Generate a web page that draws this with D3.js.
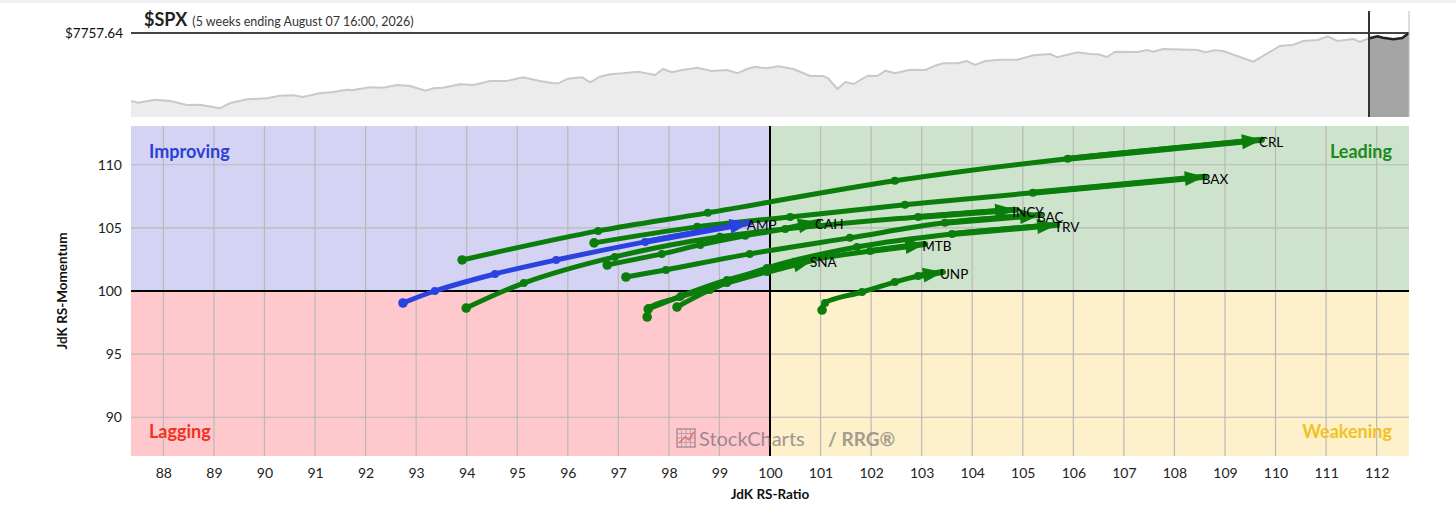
<!DOCTYPE html>
<html>
<head>
<meta charset="utf-8">
<script src="https://cdn.jsdelivr.net/npm/d3@7"></script>
<style>
  body { margin: 0; background: #fff; font-family: Lato, "Open Sans", sans-serif; }
  svg text { font-family: Lato, "Open Sans", sans-serif; }
</style>
</head>
<body>
<svg id="viz" width="1456" height="506"></svg>
<script>
// RRG tails: one array per ticker, weekly points, oldest first
var tickers = ["CRL", "BAX", "INCY", "CAH", "BAC", "TRV", "MTB", "SNA", "UNP", "AMP"];
var ratioTails = [
  [93.91, 96.60, 98.77, 102.47, 105.89, 109.73],
  [96.52, 98.56, 100.40, 102.67, 105.20, 108.60],
  [93.99, 95.13, 96.93, 99.01, 102.93, 104.85],
  [96.78, 97.86, 98.62, 99.51, 100.30, 100.95],
  [97.15, 97.94, 99.60, 101.58, 103.46, 105.34],
  [98.16, 98.81, 99.94, 101.72, 103.60, 105.68],
  [97.59, 98.24, 99.15, 100.59, 101.98, 103.07],
  [97.57, 97.61, 98.22, 99.15, 99.94, 100.85],
  [101.03, 101.09, 101.82, 102.47, 102.93, 103.42],
  [92.74, 93.37, 94.56, 95.77, 97.53, 99.60]
];
var momentumTails = [
  [102.46, 104.76, 106.19, 108.73, 110.48, 111.98],
  [103.81, 105.08, 105.87, 106.83, 107.78, 109.05],
  [98.65, 100.63, 102.70, 104.29, 105.87, 106.43],
  [102.06, 102.94, 103.65, 104.37, 104.92, 105.48],
  [101.11, 101.67, 102.94, 104.21, 105.40, 106.03],
  [98.73, 100.08, 101.83, 103.49, 104.52, 105.24],
  [98.57, 99.60, 100.87, 102.30, 103.17, 103.73],
  [97.94, 98.65, 99.52, 100.63, 101.51, 102.46],
  [98.49, 99.05, 99.92, 100.71, 101.19, 101.51],
  [99.05, 100.00, 101.35, 102.46, 103.89, 105.40]
];

var xTicks = [88, 89, 90, 91, 92, 93, 94, 95, 96, 97, 98, 99, 100, 101, 102, 103, 104, 105, 106, 107, 108, 109, 110, 111, 112];
var yTicks = [90, 95, 100, 105, 110];

// $SPX price strip (weeks from start of window, close)
var priceWeeks = [0, 0.9, 3.0, 4.9, 7.0, 8.6, 11.1, 12.4, 14.5, 17.0, 18.6, 20.3, 21.5, 23.6, 25.3, 27.0, 27.8, 29.9,
  31.5, 33.3, 34.9, 36.8, 37.8, 39.0, 41.1, 42.8, 44.9, 47.0, 49.0, 51.1, 52.8, 53.4, 54.6, 56.4, 57.4, 58.6, 59.9,
  61.5, 63.4, 65.5, 66.5, 67.6, 68.9, 70.8, 72.6, 74.5, 75.8, 77.0, 78.0, 79.5, 80.9, 82.8, 84.9, 86.5, 87.1, 88.3,
  89.3, 90.3, 92.1, 93.3, 94.3, 95.5, 97.4, 99.3, 100.5, 101.5, 103.3, 104.5, 105.5, 106.8, 108.6, 110.8, 112.8,
  114.9, 115.8, 118.3, 119.9, 120.9, 122.0, 123.0, 125.8, 127.0, 127.8, 129.0, 133.3, 134.3, 135.5, 136.5, 140.3,
  143.6, 145.3, 146.5, 148.3, 149.6, 150.8, 152.8, 153.6, 154.6, 155.8, 156.5, 157.8, 158.9, 159.75];
var priceValues = [4494, 4412, 4556, 4494, 4302, 4316, 4143, 4398, 4575, 4623, 4748, 4767, 4686, 4863, 4926, 5036, 5022, 5151,
  5132, 5262, 5214, 4988, 5103, 5132, 5295, 5262, 5454, 5454, 5631, 5454, 5343, 5343, 5564, 5631, 5391, 5660, 5775,
  5823, 5900, 5742, 6030, 5871, 5982, 6092, 5934, 5982, 5823, 6030, 6140, 6063, 6159, 6030, 5694, 5694, 5598, 5070,
  5406, 5310, 5708, 5694, 5948, 5823, 5996, 5982, 6188, 6303, 6303, 6414, 6222, 6414, 6476, 6476, 6687,
  6750, 6591, 6831, 6750, 6735, 6606, 6860, 6846, 6942, 6860, 6990, 6942, 6831, 6927, 6894, 6380,
  7134, 7196, 7374, 7422, 7599, 7374, 7470, 7326, 7484, 7599, 7532, 7455, 7518, 7757.64];
var lastPrice = 7757.64;
var tailWeeks = 5;

var plot = {left: 131, right: 1409, top: 126, bottom: 456};
var strip = {top: 33, bottom: 117};

function main() {
  var svg = d3.select("#viz");

  svg.append("rect").attr("x", 0).attr("y", 0).attr("width", 1456).attr("height", 3).attr("fill", "#eef2f6");

  priceStrip(svg);
  rrgChart(svg);
}

function priceStrip(svg) {
  var wx = d3.scaleLinear().domain([0, 159.75]).range([plot.left, plot.right]);
  var py = d3.scaleLinear().domain([lastPrice - 84 * 48, lastPrice]).range([strip.bottom, strip.top]);
  var pts = priceWeeks.map(function(w, i) { return {w: w, p: priceValues[i]}; });

  var area = d3.area().x(function(d) { return wx(d.w); }).y0(strip.bottom).y1(function(d) { return py(d.p); });
  var line = d3.line().x(function(d) { return wx(d.w); }).y(function(d) { return py(d.p); });

  var tailStart = wx(159.75 - tailWeeks);
  svg.append("clipPath").attr("id", "histClip").append("rect")
    .attr("x", plot.left).attr("y", 0).attr("width", tailStart - plot.left).attr("height", 130);
  svg.append("clipPath").attr("id", "tailClip").append("rect")
    .attr("x", tailStart).attr("y", 0).attr("width", plot.right - tailStart + 2).attr("height", 130);

  svg.append("path").datum(pts).attr("d", area).attr("fill", "#ececec").attr("clip-path", "url(#histClip)");
  svg.append("path").datum(pts).attr("d", line).attr("fill", "none").attr("stroke", "#c9c9c9")
    .attr("stroke-width", 2).attr("clip-path", "url(#histClip)");
  svg.append("path").datum(pts).attr("d", area).attr("fill", "#a5a5a5").attr("clip-path", "url(#tailClip)");

  // last price line
  svg.append("line").attr("x1", plot.left).attr("x2", plot.right).attr("y1", py(lastPrice)).attr("y2", py(lastPrice))
    .attr("stroke", "#444").attr("stroke-width", 2);
  svg.append("path").datum(pts).attr("d", line).attr("fill", "none").attr("stroke", "#222")
    .attr("stroke-width", 2.5).attr("clip-path", "url(#tailClip)");

  svg.append("line").attr("x1", tailStart).attr("x2", tailStart).attr("y1", 11).attr("y2", strip.bottom)
    .attr("stroke", "#333").attr("stroke-width", 2);
  svg.append("line").attr("x1", plot.right).attr("x2", plot.right).attr("y1", 11).attr("y2", strip.bottom)
    .attr("stroke", "#bbb").attr("stroke-width", 1);

  svg.append("text").attr("x", 123).attr("y", py(lastPrice) + 5).attr("text-anchor", "end")
    .attr("font-size", 13.5).attr("fill", "#111").text("$" + lastPrice.toFixed(2));

  var title = svg.append("text").attr("x", 144).attr("y", 26).attr("fill", "#222");
  title.append("tspan").attr("font-size", 18).attr("font-weight", "bold").text("$SPX");
  title.append("tspan").attr("font-size", 12.5).attr("dx", 5).attr("fill", "#333")
    .text("(5 weeks ending August 07 16:00, 2026)");
}

function rrgChart(svg) {
  var x = d3.scaleLinear().domain([87.36, 112.64]).range([plot.left, plot.right]);
  var y = d3.scaleLinear().domain([86.93, 113.07]).range([plot.bottom, plot.top]);
  var cx = x(100), cy = y(100);

  // quadrants
  var quads = [
    {x0: plot.left, y0: plot.top, x1: cx, y1: cy, fill: "#d4d3f4"},
    {x0: cx, y0: plot.top, x1: plot.right, y1: cy, fill: "#cde3cb"},
    {x0: plot.left, y0: cy, x1: cx, y1: plot.bottom, fill: "#fec8cc"},
    {x0: cx, y0: cy, x1: plot.right, y1: plot.bottom, fill: "#fdf0ca"}
  ];
  svg.append("g").selectAll("rect").data(quads).enter().append("rect")
    .attr("x", function(d) { return d.x0; }).attr("y", function(d) { return d.y0; })
    .attr("width", function(d) { return d.x1 - d.x0; }).attr("height", function(d) { return d.y1 - d.y0; })
    .attr("fill", function(d) { return d.fill; });

  // grid
  var grid = svg.append("g");
  grid.selectAll("line.vx").data(xTicks).enter().append("line")
    .attr("x1", function(d) { return x(d); }).attr("x2", function(d) { return x(d); })
    .attr("y1", plot.top).attr("y2", plot.bottom).attr("stroke", "#b9b9b9").attr("stroke-width", 1.2);
  grid.selectAll("line.hy").data(yTicks).enter().append("line")
    .attr("y1", function(d) { return y(d); }).attr("y2", function(d) { return y(d); })
    .attr("x1", plot.left).attr("x2", plot.right).attr("stroke", "#b9b9b9").attr("stroke-width", 1.2);

  svg.append("line").attr("x1", cx).attr("x2", cx).attr("y1", plot.top).attr("y2", plot.bottom)
    .attr("stroke", "#000").attr("stroke-width", 2);
  svg.append("line").attr("x1", plot.left).attr("x2", plot.right).attr("y1", cy).attr("y2", cy)
    .attr("stroke", "#000").attr("stroke-width", 2);

  // axes
  var xAxis = svg.append("g").attr("transform", "translate(0," + plot.bottom + ")")
    .call(d3.axisBottom(x).tickValues(xTicks).tickSize(0).tickPadding(12).tickFormat(d3.format("d")));
  var yAxis = svg.append("g").attr("transform", "translate(" + plot.left + ",0)")
    .call(d3.axisLeft(y).tickValues(yTicks).tickSize(0).tickPadding(9).tickFormat(d3.format("d")));
  [xAxis, yAxis].forEach(function(a) {
    a.select(".domain").remove();
    a.selectAll("text").attr("font-size", 14).attr("fill", "#222").attr("font-family", "Lato, sans-serif");
  });

  svg.append("text").attr("x", cx).attr("y", 499).attr("text-anchor", "middle")
    .attr("font-size", 13.5).attr("font-weight", "bold").attr("fill", "#111").text("JdK RS-Ratio");
  svg.append("text").attr("transform", "translate(67," + cy + ") rotate(-90)").attr("text-anchor", "middle")
    .attr("font-size", 13.5).attr("font-weight", "bold").attr("fill", "#111").text("JdK RS-Momentum");

  // quadrant names
  var qn = [
    {t: "Improving", x: 149, y: 158, a: "start", c: "#2b3fd6"},
    {t: "Leading", x: 1392, y: 158, a: "end", c: "#1a8a1a"},
    {t: "Lagging", x: 149, y: 438, a: "start", c: "#f2321e"},
    {t: "Weakening", x: 1392, y: 438, a: "end", c: "#f2c21e"}
  ];
  svg.append("g").selectAll("text").data(qn).enter().append("text")
    .attr("x", function(d) { return d.x; }).attr("y", function(d) { return d.y; })
    .attr("text-anchor", function(d) { return d.a; }).attr("fill", function(d) { return d.c; })
    .attr("font-size", 18).attr("font-weight", "bold").text(function(d) { return d.t; });

  // watermark
  var wm = svg.append("g").attr("opacity", 0.6);
  wm.append("rect").attr("x", 677).attr("y", 429).attr("width", 18).attr("height", 18)
    .attr("fill", "none").attr("stroke", "#6d6d80").attr("stroke-width", 1.5);
  for (var g = 1; g < 4; g++) {
    wm.append("line").attr("x1", 677 + g * 4.5).attr("x2", 677 + g * 4.5).attr("y1", 429).attr("y2", 447).attr("stroke", "#888");
    wm.append("line").attr("y1", 429 + g * 4.5).attr("y2", 429 + g * 4.5).attr("x1", 677).attr("x2", 695).attr("stroke", "#888");
  }
  wm.append("path").attr("d", "M679,443 L685,437 L689,440 L694,432").attr("fill", "none").attr("stroke", "#d33").attr("stroke-width", 1.5);
  wm.append("text").attr("x", 699).attr("y", 446).attr("font-size", 20).attr("fill", "#5d5d70").text("StockCharts");
  wm.append("text").attr("x", 828).attr("y", 446).attr("font-size", 19).attr("font-weight", "bold").attr("fill", "#666").text("/ RRG\u00AE");

  // tails
  var tailsG = svg.append("g");
  var labelsG = svg.append("g");
  var curve = d3.line().curve(d3.curveCatmullRom.alpha(0.5));
  tickers.forEach(function(tk, i) {
    var pts = ratioTails[i].map(function(r, j) { return [x(r), y(momentumTails[i][j])]; });
    var n = pts.length;
    var head = pts[n - 1];
    var hr = ratioTails[i][n - 1], hm = momentumTails[i][n - 1];
    var color = (hr < 100 && hm >= 100) ? "#2a42e0" : "#0a7d0a";
    var gT = tailsG.append("g");

    gT.append("path").attr("d", curve(pts))
      .attr("fill", "none").attr("stroke", color).attr("stroke-linecap", "round")
      .attr("stroke-linejoin", "round").attr("stroke-width", 5);
    // thicker final leg toward the head
    gT.append("path").attr("d", curve(pts.slice(n - 2)))
      .attr("fill", "none").attr("stroke", color).attr("stroke-linecap", "round").attr("stroke-width", 6);

    gT.selectAll("circle").data(pts.slice(0, n - 1)).enter().append("circle")
      .attr("cx", function(d) { return d[0]; }).attr("cy", function(d) { return d[1]; })
      .attr("r", function(d, k) { return k === 0 ? 4.8 : 4; }).attr("fill", color);

    // arrow head
    var prev = pts[n - 2];
    var ang = Math.atan2(head[1] - prev[1], head[0] - prev[0]);
    var len = 20, hw = 7.5;
    var bx = head[0] - len * Math.cos(ang), by = head[1] - len * Math.sin(ang);
    var px = -Math.sin(ang) * hw, py = Math.cos(ang) * hw;
    gT.append("path")
      .attr("d", "M" + head[0] + "," + head[1] + "L" + (bx + px) + "," + (by + py) + "L" + (bx - px) + "," + (by - py) + "Z")
      .attr("fill", color);

    labelsG.append("text").attr("x", head[0] - 3).attr("y", head[1] + 7)
      .attr("font-size", 13.5).attr("fill", "#000").text(tk);
  });
}

window.onload = main;
</script>
</body>
</html>
